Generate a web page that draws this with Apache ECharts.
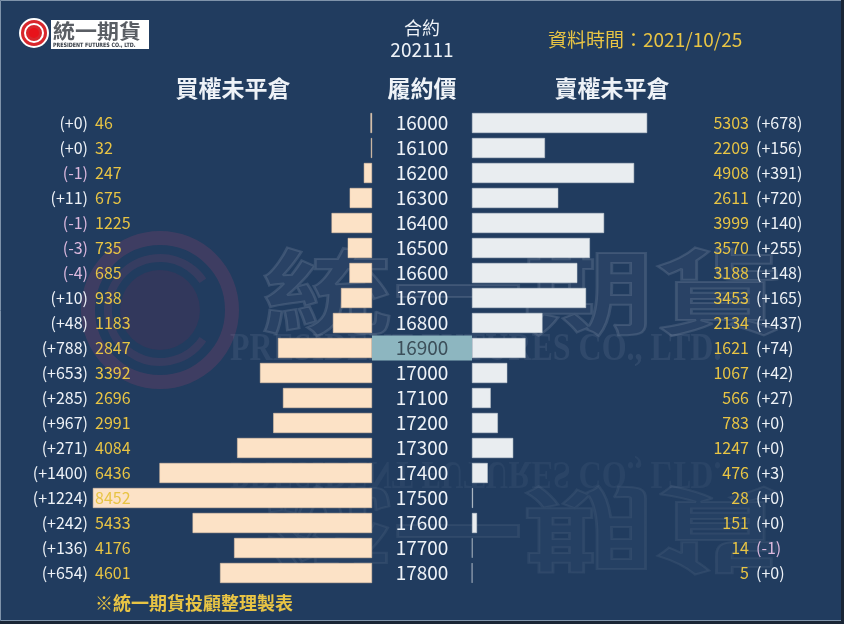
<!DOCTYPE html>
<html>
<head>
<meta charset="utf-8">
<script src="https://cdn.jsdelivr.net/npm/echarts@6/dist/echarts.min.js"></script>
<style>
  html, body { margin: 0; padding: 0; background: #213c5f; }
  #chart { width: 844px; height: 624px; }
</style>
</head>
<body>
<div id="chart"></div>
<script>
// 履約價
const strikes = ['16000', '16100', '16200', '16300', '16400', '16500', '16600', '16700', '16800', '16900',
  '17000', '17100', '17200', '17300', '17400', '17500', '17600', '17700', '17800'];
// 買權未平倉 & 增減
const callOI = [46, 32, 247, 675, 1225, 735, 685, 938, 1183, 2847, 3392, 2696, 2991, 4084, 6436, 8452, 5433, 4176, 4601];
const callChg = [0, 0, -1, 11, -1, -3, -4, 10, 48, 788, 653, 285, 967, 271, 1400, 1224, 242, 136, 654];
// 賣權未平倉 & 增減
const putOI = [5303, 2209, 4908, 2611, 3999, 3570, 3188, 3453, 2134, 1621, 1067, 566, 783, 1247, 476, 28, 151, 14, 5];
const putChg = [678, 156, 391, 720, 140, 255, 148, 165, 437, 74, 42, 27, 0, 0, 3, 0, 0, -1, 0];
// 價平
const atmStrike = '16900';

const FONT = '"Noto Sans CJK TC", "Noto Sans", sans-serif';
const GOLD = '#e8c444';
const WHITE = '#eef2f7';
const PINK = '#dcb9de';

const chg = (v) => '(' + (v >= 0 ? '+' : '') + v + ')';

const mChart = echarts.init(document.getElementById('chart'));

const gridTop = 110.5;
const gridBottom = 38.5;

// 標籤軸 (不畫線), 疊在柱子上方
const labelAxis = (gridIndex, position, align, margin, formatter) => ({
  gridIndex,
  type: 'category',
  data: strikes,
  inverse: true,
  position,
  z: 5,
  axisLine: { show: false },
  axisTick: { show: false },
  splitLine: { show: false },
  axisLabel: { interval: 0, align, margin, formatter, fontSize: 16, fontFamily: FONT },
});

const options = {
  backgroundColor: '#213c5f',
  animation: false,
  grid: [
    // 左: 買權
    { left: 88, right: 472, top: gridTop, bottom: gridBottom, outerBoundsMode: 'none' },
    // 右: 賣權
    { left: 472, right: 88, top: gridTop, bottom: gridBottom, outerBoundsMode: 'none' },
    // 中: 履約價
    { left: 372, right: 372, top: gridTop, bottom: gridBottom, outerBoundsMode: 'none' },
  ],
  xAxis: [
    { gridIndex: 0, type: 'value', inverse: true, min: 0, max: 8600, show: false },
    { gridIndex: 1, type: 'value', min: 0, max: 8600, show: false },
    { gridIndex: 2, type: 'value', min: 0, max: 1, show: false },
  ],
  yAxis: [
    // 買權增減
    labelAxis(0, 'left', 'right', 0, (v, i) => '{' + (callChg[i] < 0 ? 'n' : 'c') + '|' + chg(callChg[i]) + '}'),
    // 買權未平倉
    labelAxis(0, 'left', 'left', -7, (v, i) => '{v|' + callOI[i] + '}'),
    // 賣權增減
    labelAxis(1, 'right', 'left', 0, (v, i) => '{' + (putChg[i] < 0 ? 'n' : 'c') + '|' + chg(putChg[i]) + '}'),
    // 賣權未平倉
    labelAxis(1, 'right', 'right', -7, (v, i) => '{v|' + putOI[i] + '}'),
    { gridIndex: 2, type: 'category', data: strikes, inverse: true, show: false },
  ],
  series: [
    {
      type: 'bar',
      xAxisIndex: 0,
      yAxisIndex: 0,
      data: callOI,
      barWidth: 20,
      itemStyle: { color: '#fce2c6', borderColor: '#e9c9a8', borderWidth: 0.5 },
      z: 2,
    },
    {
      type: 'bar',
      xAxisIndex: 1,
      yAxisIndex: 2,
      data: putOI,
      barWidth: 20,
      itemStyle: { color: '#e9edf0', borderColor: '#c9d0d6', borderWidth: 0.5 },
      z: 2,
    },
    {
      // 履約價欄, 價平以底色標示
      type: 'bar',
      xAxisIndex: 2,
      yAxisIndex: 4,
      barWidth: '100%',
      data: strikes.map((s) => ({
        value: 1,
        itemStyle: { color: s === atmStrike ? '#8db6c0' : 'rgba(0,0,0,0)' },
        label: { color: s === atmStrike ? '#3c4f5a' : WHITE },
      })),
      label: {
        show: true,
        position: 'inside',
        formatter: (p) => strikes[p.dataIndex],
        fontSize: 19,
        fontFamily: FONT,
      },
      z: 2,
    },
  ],
  graphic: [
    // 浮水印
    {
      type: 'group',
      silent: true,
      z: 50,
      children: [
        { type: 'circle', shape: { cx: 160, cy: 310, r: 72 }, style: { fill: 'none', stroke: 'rgba(170,70,110,0.22)', lineWidth: 14 } },
        { type: 'circle', shape: { cx: 160, cy: 310, r: 40 }, style: { fill: 'rgba(120,40,80,0.2)' } },
        { type: 'arc', shape: { cx: 160, cy: 310, r: 52, startAngle: 0.6, endAngle: -0.6 + Math.PI * 2 }, style: { fill: 'none', stroke: 'rgba(170,70,110,0.16)', lineWidth: 8 } },
        {
          type: 'text', x: 262, y: 292, scaleX: 1.42,
          style: { text: '統一期貨', font: 'bold 92px ' + FONT, verticalAlign: 'middle', fill: 'rgba(190,200,215,0.05)', stroke: 'rgba(190,200,215,0.16)', lineWidth: 2 },
        },
        {
          type: 'text', x: 230, y: 350, scaleX: 0.8,
          style: { text: 'PRESIDENT FUTURES CO., LTD.', font: 'bold 40px "Liberation Serif", serif', verticalAlign: 'middle', fill: 'rgba(190,200,215,0.1)' },
        },
        {
          type: 'text', x: 230, y: 472, scaleX: 0.8, scaleY: -1,
          style: { text: 'PRESIDENT FUTURES CO., LTD.', font: 'bold 40px "Liberation Serif", serif', verticalAlign: 'middle', fill: 'rgba(190,200,215,0.06)' },
        },
        {
          type: 'text', x: 262, y: 530, scaleX: 1.42, scaleY: -1,
          style: { text: '統一期貨', font: 'bold 92px ' + FONT, verticalAlign: 'middle', fill: 'rgba(190,200,215,0.03)', stroke: 'rgba(190,200,215,0.08)', lineWidth: 2 },
        },
      ],
    },
    // Logo
    { type: 'circle', shape: { cx: 34, cy: 33, r: 14 }, style: { fill: '#d8262c', stroke: '#ffffff', lineWidth: 2 } },
    { type: 'circle', shape: { cx: 34, cy: 33, r: 9 }, style: { fill: 'none', stroke: '#ffffff', lineWidth: 2 } },
    { type: 'circle', shape: { cx: 34, cy: 33, r: 5 }, style: { fill: '#e8121a' } },
    { type: 'rect', shape: { x: 51, y: 20, width: 98, height: 29 }, style: { fill: '#ffffff' } },
    {
      type: 'text', x: 53, y: 31, scaleX: 1.1,
      style: { text: '統一期貨', font: 'bold 20px ' + FONT, fill: '#5a5e64', verticalAlign: 'middle' },
    },
    {
      type: 'text', x: 53, y: 45, scaleX: 0.8,
      style: { text: 'PRESIDENT FUTURES CO., LTD.', font: 'bold 6px "DejaVu Sans", sans-serif', fill: '#333a44', verticalAlign: 'middle' },
    },
    // 標題
    { type: 'text', x: 422, y: 28, style: { text: '合約', font: '18px ' + FONT, fill: WHITE, align: 'center', verticalAlign: 'middle' } },
    { type: 'text', x: 422, y: 50, style: { text: '202111', font: '19px ' + FONT, fill: WHITE, align: 'center', verticalAlign: 'middle' } },
    { type: 'text', x: 548, y: 40, style: { text: '資料時間：2021/10/25', font: '19px ' + FONT, fill: GOLD, verticalAlign: 'middle' } },
    { type: 'text', x: 233, y: 88, style: { text: '買權未平倉', font: 'bold 23px ' + FONT, fill: WHITE, align: 'center', verticalAlign: 'middle' } },
    { type: 'text', x: 422, y: 88, style: { text: '履約價', font: 'bold 23px ' + FONT, fill: WHITE, align: 'center', verticalAlign: 'middle' } },
    { type: 'text', x: 612, y: 88, style: { text: '賣權未平倉', font: 'bold 23px ' + FONT, fill: WHITE, align: 'center', verticalAlign: 'middle' } },
    { type: 'text', x: 95, y: 603, style: { text: '※統一期貨投顧整理製表', font: 'bold 18px ' + FONT, fill: GOLD, verticalAlign: 'middle' } },
    // 外框
    { type: 'rect', shape: { x: 0.5, y: 0.5, width: 841, height: 620 }, style: { fill: 'none', stroke: '#7f93aa', lineWidth: 1 } },
    { type: 'rect', shape: { x: 841, y: 0, width: 3, height: 624 }, style: { fill: '#1a2636' } },
    { type: 'rect', shape: { x: 0, y: 621, width: 844, height: 3 }, style: { fill: '#1a2636' } },
  ],
};

// 標籤色
const richStyle = {
  c: { color: WHITE, fontSize: 16, fontFamily: FONT },
  n: { color: PINK, fontSize: 16, fontFamily: FONT },
  v: { color: GOLD, fontSize: 16, fontFamily: FONT },
};
options.yAxis.slice(0, 4).forEach((ax) => { ax.axisLabel.rich = richStyle; });

mChart.setOption(options);
</script>
</body>
</html>
